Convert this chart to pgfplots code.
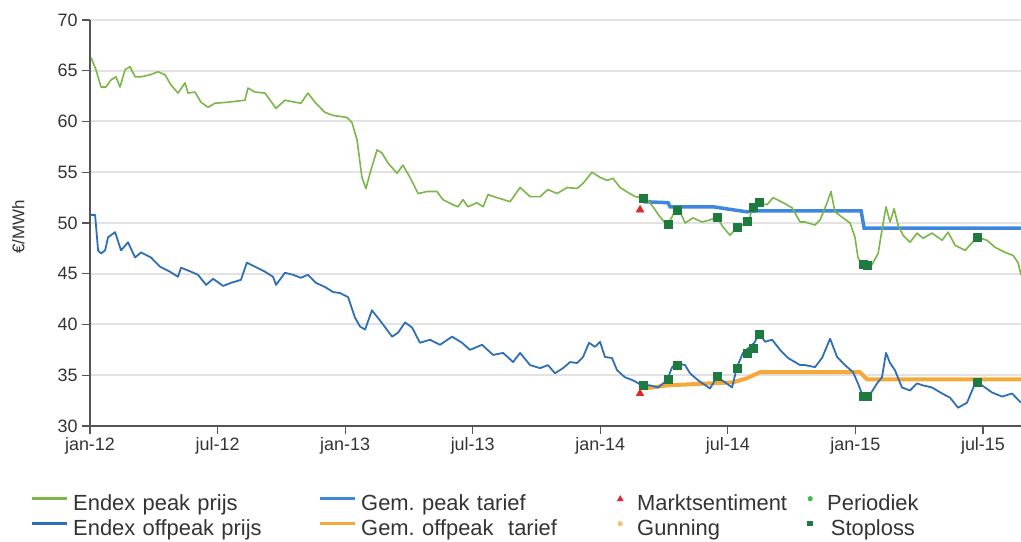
\documentclass[border=0pt]{standalone}
\usepackage{fontspec}
\setmainfont{Liberation Sans}
\usepackage{pgfplots}
\pgfplotsset{compat=1.18}
\definecolor{peakgreen}{HTML}{7AB648}
\definecolor{offblue}{HTML}{2F6FB5}
\definecolor{tarblue}{HTML}{3F86E0}
\definecolor{tarorange}{HTML}{F4AA3A}
\definecolor{stopgreen}{HTML}{1F7A3F}
\definecolor{mred}{HTML}{E3262B}
\definecolor{pergreen}{HTML}{3DBA4A}
\definecolor{gunorange}{HTML}{F2C275}
\definecolor{axisgray}{HTML}{555555}
\definecolor{gridgray}{HTML}{E2E2E2}
\definecolor{labelgray}{HTML}{333333}
\begin{document}
\begin{tikzpicture}
\begin{axis}[
  at={(90bp,116bp)}, anchor=south west,
  scale only axis, width=931bp, height=406bp,
  xmin=0, xmax=43.79, ymin=30, ymax=70,
  axis x line*=bottom, axis y line*=left,
  axis line style={draw=axisgray, line width=1.5bp},
  xtick={0,6,12,18,24,30,36,42},
  xticklabels={jan-12,jul-12,jan-13,jul-13,jan-14,jul-14,jan-15,jul-15},
  ytick={30,35,40,45,50,55,60,65,70},
  tick align=outside, major tick length=8bp,
  tick style={draw=axisgray, line width=1.2bp},
  ymajorgrids, grid style={draw=gridgray, line width=2bp},
  ticklabel style={font=\fontsize{18}{20}\selectfont, text=labelgray},
  yticklabel style={xshift=-1bp},
  /pgf/number format/assume math mode=true,
  ylabel={€/MWh},
  ylabel style={at={(axis description cs:-0.077,0.49)}, anchor=center, font=\fontsize{17}{19}\selectfont, text=labelgray},
  legend columns=4,
  legend style={at={(axis description cs:-0.0644,-0.165)}, anchor=north west,
    draw=none, fill=none, inner sep=0pt, column sep=0bp,
    font=\fontsize{22}{24}\selectfont, text=labelgray,
    nodes={inner xsep=5bp, inner ysep=0.5bp, text height=17bp, text depth=7bp}},
]
% legend entries
\addlegendimage{legend image code/.code={\draw[line width=3bp, peakgreen] (0bp,7bp) -- (35bp,7bp);}}
\addlegendentry[text width=240bp]{Endex peak prijs}
\addlegendimage{legend image code/.code={\draw[line width=3bp, tarblue] (0bp,7bp) -- (35bp,7bp);}}
\addlegendentry[text width=246bp]{Gem.\ peak tarief}
\addlegendimage{draw=none, legend image code/.code={\fill[opacity=0] (0bp,6bp) rectangle (20bp,8bp); \fill[mred] (8bp,10.5bp) -- (4.5bp,4.5bp) -- (11.5bp,4.5bp) -- cycle;}}
\addlegendentry[text width=160bp]{Marktsentiment}
\addlegendimage{draw=none, legend image code/.code={\fill[opacity=0] (0bp,6bp) rectangle (20bp,8bp); \fill[pergreen] (8bp,7bp) circle (2.6bp);}}
\addlegendentry{Periodiek}
\addlegendimage{legend image code/.code={\draw[line width=3bp, offblue] (0bp,7bp) -- (35bp,7bp);}}
\addlegendentry[text width=240bp]{Endex offpeak prijs}
\addlegendimage{legend image code/.code={\draw[line width=3bp, tarorange] (0bp,7bp) -- (35bp,7bp);}}
\addlegendentry[text width=246bp]{Gem.\ offpeak\ \ tarief}
\addlegendimage{draw=none, legend image code/.code={\fill[opacity=0] (0bp,6bp) rectangle (20bp,8bp); \fill[gunorange] (8bp,7bp) circle (2.6bp);}}
\addlegendentry[text width=160bp]{Gunning}
\addlegendimage{draw=none, legend image code/.code={\fill[opacity=0] (0bp,6bp) rectangle (20bp,8bp); \fill[stopgreen] (5.2bp,4.2bp) rectangle (10.8bp,9.8bp);}}
\addlegendentry{Stoploss}

% Gem. peak tarief
\addplot[forget plot, tarblue, line width=3.5bp] coordinates {
(26.01,52.1) (27.19,52.0) (27.28,51.6) (29.30,51.6) (30.24,51.3) (30.90,51.1)
(31.37,51.2) (36.27,51.2) (36.41,49.5) (43.79,49.5)};
% Gem. offpeak tarief
\addplot[forget plot, tarorange, line width=4bp] coordinates {
(26.11,33.7) (27.14,34.0) (29.16,34.2) (30.24,34.3) (30.90,34.7) (31.51,35.3)
(36.22,35.3) (36.55,34.6) (43.79,34.6)};

% Endex peak prijs
\addplot[forget plot, peakgreen, line width=1.6bp, line join=round] coordinates {
(0.05,66.3) (0.28,65.1) (0.52,63.4) (0.75,63.4) (0.99,64.1) (1.22,64.4) (1.41,63.4)
(1.65,65.1) (1.88,65.4) (2.12,64.4) (2.40,64.4) (2.82,64.6) (3.20,64.9) (3.53,64.6)
(3.81,63.6) (4.14,62.8) (4.47,63.8) (4.61,62.8) (4.94,62.9) (5.22,61.9) (5.55,61.4)
(5.88,61.8) (6.49,61.9) (7.29,62.1) (7.43,63.3) (7.76,62.9) (8.23,62.8) (8.47,62.1)
(8.75,61.3) (9.17,62.1) (9.64,61.9) (9.92,61.8) (10.25,62.8) (10.58,61.9) (11.05,60.9)
(11.43,60.6) (11.76,60.5) (12.09,60.4) (12.32,59.9) (12.56,58.2) (12.79,54.5) (12.98,53.4)
(13.17,54.9) (13.50,57.2) (13.73,56.9) (14.02,55.9) (14.44,54.9) (14.72,55.7) (15.05,54.5)
(15.43,52.9) (15.85,53.1) (16.32,53.1) (16.60,52.3) (17.07,51.8) (17.31,51.6) (17.54,52.3)
(17.78,51.6) (18.20,52.0) (18.49,51.6) (18.72,52.8) (19.14,52.5) (19.76,52.1) (20.23,53.5)
(20.70,52.6) (21.17,52.6) (21.54,53.3) (21.97,52.9) (22.44,53.5) (22.91,53.4) (23.19,53.9)
(23.61,55.0) (23.99,54.5) (24.32,54.2) (24.60,54.4) (24.93,53.5) (25.31,53.0) (25.64,52.6)
(25.96,52.5) (26.11,52.6) (26.48,51.6) (26.81,50.6) (27.14,49.8) (27.38,50.6) (27.52,51.3)
(27.75,51.1) (27.99,50.0) (28.36,50.5) (28.79,50.1) (29.16,50.3) (29.49,50.6) (29.77,49.6)
(30.10,48.8) (30.43,49.5) (30.71,49.8) (30.95,50.1) (31.19,51.6) (31.42,52.0) (31.84,51.8)
(32.13,52.5) (32.60,52.0) (33.02,51.5) (33.40,50.1) (33.63,50.1) (34.10,49.8) (34.34,50.3)
(34.67,52.0) (34.85,53.1) (35.04,51.1) (35.42,50.5) (35.75,50.0) (35.98,48.6) (36.12,46.6)
(36.36,45.7) (36.78,45.9) (37.07,47.0) (37.25,49.3) (37.44,51.6) (37.63,50.1) (37.82,51.4)
(38.01,49.8) (38.24,48.8) (38.57,48.1) (38.90,49.0) (39.18,48.5) (39.60,49.0) (40.08,48.3)
(40.36,49.1) (40.69,47.8) (41.16,47.3) (41.72,48.6) (42.19,48.3) (42.57,47.6) (43.04,47.1)
(43.42,46.8) (43.65,46.1) (43.79,44.9)};

% Endex offpeak prijs
\addplot[forget plot, offblue, line width=1.8bp, line join=round] coordinates {
(0.05,50.8) (0.24,50.8) (0.38,47.3) (0.52,47.0) (0.71,47.3) (0.85,48.6) (1.18,49.1)
(1.46,47.3) (1.79,48.1) (2.12,46.6) (2.40,47.1) (2.87,46.6) (3.29,45.7) (3.76,45.2)
(4.14,44.7) (4.28,45.6) (4.75,45.2) (5.08,44.9) (5.46,43.9) (5.79,44.5) (6.26,43.8)
(6.63,44.1) (7.10,44.4) (7.38,46.1) (7.76,45.7) (8.23,45.2) (8.61,44.7) (8.75,43.9)
(9.17,45.1) (9.55,44.9) (9.92,44.6) (10.25,44.9) (10.63,44.1) (11.05,43.7) (11.43,43.2)
(11.76,43.1) (12.14,42.7) (12.46,40.7) (12.70,39.8) (12.94,39.5) (13.26,41.4) (13.64,40.4)
(14.21,38.8) (14.49,39.2) (14.82,40.2) (15.15,39.7) (15.52,38.2) (15.99,38.5) (16.46,38.0)
(17.03,38.8) (17.50,38.2) (17.87,37.5) (18.44,38.0) (18.96,37.0) (19.43,37.2) (19.90,36.3)
(20.23,37.2) (20.70,36.0) (21.17,35.7) (21.54,36.0) (21.87,35.2) (22.25,35.7) (22.58,36.3)
(22.91,36.2) (23.19,36.8) (23.47,38.2) (23.75,37.8) (23.99,38.3) (24.22,36.8) (24.55,36.7)
(24.79,35.5) (25.16,34.8) (25.54,34.5) (25.96,34.0) (26.34,34.0) (26.72,33.8) (27.14,34.5)
(27.38,35.8) (27.61,36.2) (27.99,36.0) (28.22,35.2) (28.60,34.5) (29.16,33.7) (29.49,34.8)
(29.87,34.3) (30.20,33.8) (30.43,35.8) (30.71,37.2) (31.04,37.8) (31.28,38.3) (31.47,39.2)
(31.75,38.3) (32.08,38.5) (32.46,37.5) (32.83,36.7) (33.40,36.0) (33.63,36.0) (34.10,35.8)
(34.43,36.7) (34.81,38.6) (35.14,36.8) (35.51,36.0) (35.89,35.3) (36.12,34.2) (36.36,32.9)
(36.69,33.1) (37.02,34.2) (37.25,34.8) (37.44,37.2) (37.63,36.2) (37.86,35.5) (38.19,33.8)
(38.57,33.5) (38.90,34.2) (39.18,34.0) (39.60,33.8) (40.08,33.2) (40.45,32.8) (40.83,31.8)
(41.25,32.3) (41.63,34.2) (41.96,34.0) (42.43,33.3) (42.90,32.9) (43.37,33.2) (43.65,32.6)
(43.79,32.3)};

% Stoploss markers
\addplot[forget plot, only marks, mark=square*, mark size=4bp, stopgreen] coordinates {
(26.01,52.4) (27.19,49.9) (27.61,51.3) (29.49,50.6) (30.43,49.6) (30.90,50.2)
(31.19,51.6) (31.47,52.0) (36.36,45.9) (36.55,45.8) (41.72,48.6)
(26.01,34.0) (27.19,34.6) (27.61,36.0) (29.49,34.9) (30.43,35.7) (30.90,37.2)
(31.19,37.7) (31.47,39.0) (36.36,32.9) (36.55,32.9) (41.72,34.3)};
% Marktsentiment markers
\addplot[forget plot, only marks, mark=triangle*, mark size=4.5bp, mred] coordinates {
(25.87,51.3) (25.87,33.2)};
\end{axis}
\pgfresetboundingbox
\useasboundingbox (0bp,0bp) rectangle (1021bp,542bp);
\end{tikzpicture}
\end{document}
